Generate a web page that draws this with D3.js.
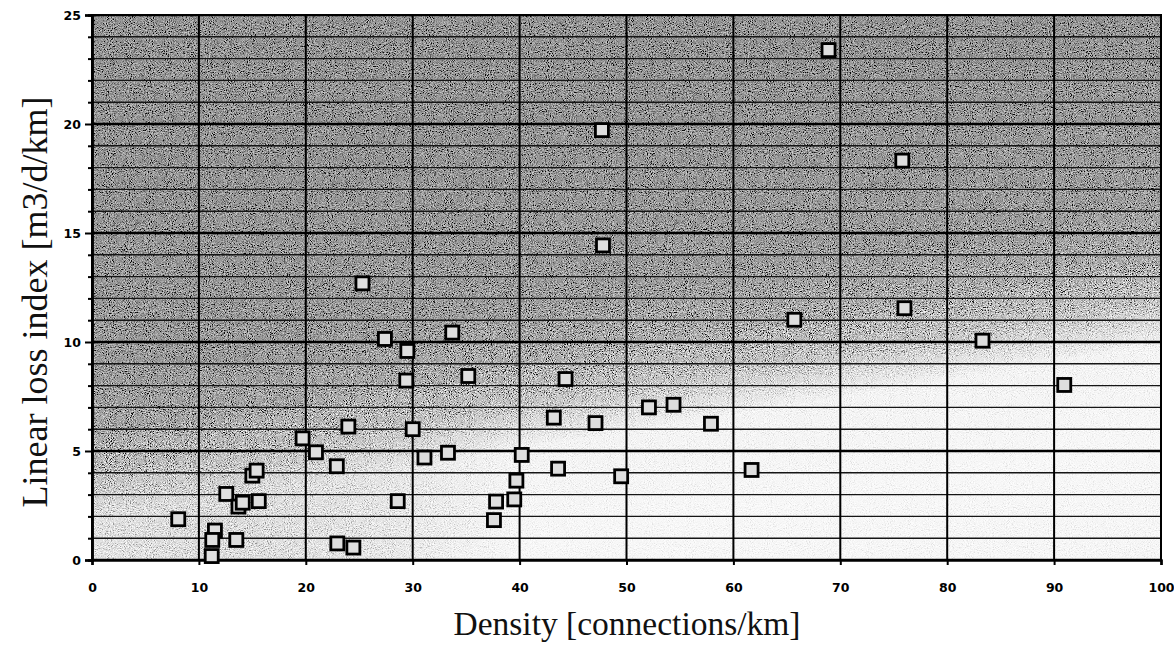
<!DOCTYPE html>
<html>
<head>
<meta charset="utf-8">
<script src="https://cdn.jsdelivr.net/npm/d3@7"></script>
<style>
  html, body { margin: 0; padding: 0; background: #ffffff; }
  svg { display: block; }
</style>
</head>
<body>
<div id="chart"></div>
<script>
// ---- data ----
const density = [8.07, 11.5, 11.25, 11.2, 13.5, 12.56, 13.7, 14.1, 15.6, 15.0, 15.4, 19.7, 20.95, 22.9, 22.95, 24.45, 23.98, 25.3, 27.4, 28.6, 29.4, 29.5, 30.0, 31.1, 33.3, 33.7, 35.2, 37.6, 37.8, 39.5, 39.7, 40.2, 43.2, 43.6, 44.3, 47.1, 47.7, 47.8, 49.5, 52.1, 54.4, 57.9, 61.7, 65.7, 68.9, 75.8, 76.0, 83.3, 90.95];
const lossIndex = [1.87, 1.35, 0.92, 0.18, 0.92, 3.03, 2.45, 2.63, 2.7, 3.87, 4.1, 5.58, 4.94, 4.3, 0.76, 0.57, 6.12, 12.69, 10.14, 2.7, 8.23, 9.59, 6.0, 4.7, 4.92, 10.43, 8.44, 1.83, 2.68, 2.78, 3.64, 4.82, 6.53, 4.19, 8.3, 6.28, 19.72, 14.43, 3.84, 7.0, 7.12, 6.25, 4.13, 11.02, 23.39, 18.32, 11.55, 10.06, 8.03];
const xTicks = [0, 10, 20, 30, 40, 50, 60, 70, 80, 90, 100];
const yMajorTicks = [0, 5, 10, 15, 20, 25];
const yMinorTicks = [1, 2, 3, 4, 6, 7, 8, 9, 11, 12, 13, 14, 16, 17, 18, 19, 21, 22, 23, 24];
const xTitle = "Density [connections/km]";
const yTitle = "Linear loss index [m3/d/km]";

(function () {
const W = 1174, H = 649;
const pL = 92, pR = 1161, pT = 15, pB = 560;

const svg = d3.select("#chart").append("svg").attr("width", W).attr("height", H);
const defs = svg.append("defs");

const x = d3.scaleLinear().domain([0, 100]).range([pL, pR]);
const y = d3.scaleLinear().domain([0, 25]).range([pB, pT]);

// background gradient: dark above a diagonal band, light below it
const grad = defs.append("linearGradient").attr("id", "bg")
  .attr("gradientUnits", "userSpaceOnUse")
  .attr("x1", 578).attr("y1", 112).attr("x2", 674).attr("y2", 704);
[[0, "#686868"], [0.3, "#6e6e6e"], [0.4, "#7a7a7a"], [0.46, "#969696"], [0.5, "#c4c4c4"], [0.54, "#ececec"], [0.7, "#f2f2f2"], [1, "#eeeeee"]]
  .forEach(([o, c]) => grad.append("stop").attr("offset", o).attr("stop-color", c));

// soft greying of the lower-left corner
const rg = defs.append("radialGradient").attr("id", "bl")
  .attr("gradientUnits", "userSpaceOnUse")
  .attr("cx", x(12)).attr("cy", y(2)).attr("r", 300);
[[0, 0.32], [0.5, 0.2], [1, 0]]
  .forEach(([o, a]) => rg.append("stop").attr("offset", o).attr("stop-color", "#606060").attr("stop-opacity", a));

// noise texture
const f = defs.append("filter").attr("id", "noise")
  .attr("x", 0).attr("y", 0).attr("width", 1).attr("height", 1)
  .attr("filterUnits", "objectBoundingBox");
f.append("feTurbulence").attr("type", "fractalNoise").attr("baseFrequency", 0.95).attr("numOctaves", 2).attr("seed", 7).attr("result", "t");
f.append("feColorMatrix").attr("type", "matrix")
  .attr("values", "0.33 0.33 0.33 0 0  0.33 0.33 0.33 0 0  0.33 0.33 0.33 0 0  0 0 0 0 1").attr("result", "g");
const ct = f.append("feComponentTransfer");
["feFuncR", "feFuncG", "feFuncB"].forEach(n => ct.append(n).attr("type", "linear").attr("slope", 4).attr("intercept", -1.5));

defs.append("clipPath").attr("id", "plotclip").append("rect")
  .attr("x", pL).attr("y", pT).attr("width", pR - pL).attr("height", pB - pT);

const plot = svg.append("g").attr("clip-path", "url(#plotclip)");
plot.append("rect").attr("x", pL).attr("y", pT).attr("width", pR - pL).attr("height", pB - pT).attr("fill", "url(#bg)");
plot.append("rect").attr("x", pL).attr("y", pT).attr("width", pR - pL).attr("height", pB - pT).attr("fill", "url(#bl)");
plot.append("rect").attr("x", pL).attr("y", pT).attr("width", pR - pL).attr("height", pB - pT)
  .attr("filter", "url(#noise)").style("mix-blend-mode", "overlay").attr("opacity", 0.95);

// minor horizontal grid
plot.selectAll("line.ymin").data(yMinorTicks).join("line")
  .attr("x1", pL).attr("x2", pR).attr("y1", d => y(d)).attr("y2", d => y(d))
  .attr("stroke", "#151515").attr("stroke-width", 1.4);
// major horizontal grid
plot.selectAll("line.ymaj").data(yMajorTicks).join("line")
  .attr("x1", pL).attr("x2", pR).attr("y1", d => y(d)).attr("y2", d => y(d))
  .attr("stroke", "#000").attr("stroke-width", 2.3);
// vertical grid
plot.selectAll("line.xg").data(xTicks).join("line")
  .attr("x1", d => x(d)).attr("x2", d => x(d)).attr("y1", pT).attr("y2", pB)
  .attr("stroke", "#000").attr("stroke-width", 2);

// border
svg.append("rect").attr("x", pL).attr("y", pT).attr("width", pR - pL).attr("height", pB - pT)
  .attr("fill", "none").attr("stroke", "#000").attr("stroke-width", 2);

// axes
const xAxis = d3.axisBottom(x).tickValues(xTicks).tickSize(5).tickPadding(18).tickFormat(d3.format("d"));
const yAxis = d3.axisLeft(y).tickValues(yMajorTicks).tickSize(7).tickPadding(4).tickFormat(d3.format("d"));
const yMinorAxis = d3.axisLeft(y).tickValues(yMinorTicks).tickSize(4).tickFormat("");

function styleAxis(g) {
  g.select(".domain").attr("stroke", "#000").attr("stroke-width", 2.5);
  g.selectAll(".tick line").attr("stroke", "#000").attr("stroke-width", 2);
  g.selectAll("text").attr("fill", "#000")
    .style("font-family", "'DejaVu Sans', sans-serif").style("font-weight", "bold").style("font-size", "12.5px");
}
svg.append("g").attr("transform", `translate(0,${pB})`).call(xAxis).call(styleAxis);
svg.append("g").attr("transform", `translate(${pL},0)`).call(yMinorAxis).call(styleAxis);
svg.append("g").attr("transform", `translate(${pL},0)`).call(yAxis).call(styleAxis);

// points
svg.append("g").selectAll("rect.pt").data(density.map((d, i) => [d, lossIndex[i]])).join("rect")
  .attr("x", d => x(d[0]) - 6.5).attr("y", d => y(d[1]) - 6.5)
  .attr("width", 13).attr("height", 13)
  .attr("fill", "#dedede").attr("stroke", "#000").attr("stroke-width", 2.8);

// titles
svg.append("text").attr("x", 627).attr("y", 635).attr("text-anchor", "middle")
  .style("font-family", "'Liberation Serif', 'DejaVu Serif', serif").style("font-size", "33.5px").attr("fill", "#111")
  .text(xTitle);
svg.append("text").attr("transform", "translate(47,302) rotate(-90)").attr("text-anchor", "middle")
  .style("font-family", "'Liberation Serif', 'DejaVu Serif', serif").style("font-size", "36px").attr("fill", "#111")
  .text(yTitle);
})();
</script>
</body>
</html>
